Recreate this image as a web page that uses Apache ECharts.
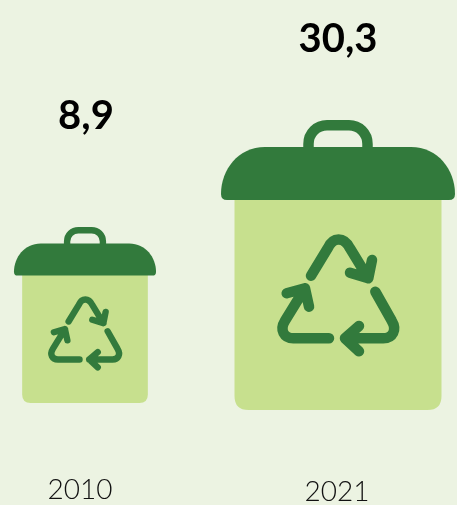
<!DOCTYPE html>
<html>
<head>
<meta charset="utf-8">
<style>
  html, body { margin: 0; padding: 0; background: #ecf3e2; }
  #myChart { width: 457px; height: 505px; }
</style>
</head>
<body>
<div id="myChart"></div>
<script src="https://cdn.jsdelivr.net/npm/echarts@6/dist/echarts.min.js"></script>
<script>
// data
const years = ["2010", "2021"];
const values = [8.9, 30.3];

// layout
const yMin = -24.16;
const yMax = 30.3;
const binStretch = 1.065;
const binHeight = 290; // icon drawn at the size of the 2021 bin
const labelLift = [111, 81];
const labelShift = [1, 0];

const lidColor = "#327a3c";
const bodyColor = "#c7e08e";

// icon outlines, origin at the top centre of the handle
const bodyPath = "M-103.5 76 H103.5 V276 Q103.5 290 89.5 290 H-89.5 Q-103.5 290 -103.5 276 Z";
const lidPath = "M-73 27 H73 C100 27 117 50 117 74 Q117 80 111 80 H-111 Q-117 80 -117 74 C-117 50 -100 27 -73 27 Z";
const handlePath = "M-29.5 30 V24 C-29.5 13 -21 5.3 -11 5.3 H11 C21 5.3 29.5 13 29.5 24 V30";
const recyclePaths = [
  "M-27 155.7 L-10.3 128.3 C-5 116.5 6 116.5 12 128.3 L30.3 158.3 M12 152.7 L30.3 158.3 L34 140",
  "M37.3 171.7 L53.7 200.7 C59.3 210 54.7 218.3 45.3 218.3 L7 218.3 M21 206 L7 218.3 L21 231.3",
  "M-9 218.3 L-44.7 218.3 C-54 218.3 -58.7 210 -53 200.7 L-33 168.3 M-51.3 173.3 L-33 168.3 L-29 186.7"
];

function renderBin(params, api) {
  const i = params.dataIndex;
  const top = api.coord([i, api.value(1)]);
  const base = api.coord([i, yMin]);
  const s = (binStretch * (base[1] - top[1])) / binHeight;
  const text = api.value(1).toFixed(1).replace(".", ",");
  const strokeStyle = {
    fill: "none",
    stroke: lidColor,
    lineWidth: 10.5,
    lineCap: "round",
    lineJoin: "round"
  };
  return {
    type: "group",
    children: [
      {
        type: "group",
        x: top[0],
        y: top[1],
        scaleX: s,
        scaleY: s,
        children: [
          { type: "path", shape: { pathData: bodyPath }, style: { fill: bodyColor } },
          { type: "path", shape: { pathData: handlePath }, style: { fill: "none", stroke: lidColor, lineWidth: 10.5 } },
          { type: "path", shape: { pathData: lidPath }, style: { fill: lidColor } }
        ].concat(recyclePaths.map(d => ({ type: "path", shape: { pathData: d }, style: strokeStyle })))
      },
      {
        type: "text",
        style: {
          text: text,
          x: top[0] + labelShift[i],
          y: top[1] - labelLift[i],
          textAlign: "center",
          textVerticalAlign: "middle",
          font: "bold 40px Lato",
          fill: "#000"
        }
      }
    ]
  };
}

let myChart = echarts.init(document.getElementById("myChart"), null, { renderer: "canvas" });
myChart.setOption({
  backgroundColor: "#ecf3e2",
  animation: false,
  grid: { left: 85, right: 119, top: 120, bottom: 112.7, outerBoundsMode: "none" },
  xAxis: {
    type: "category",
    data: years,
    boundaryGap: false,
    axisLine: { show: false },
    axisTick: { show: false },
    axisLabel: {
      margin: 84,
      interval: 0,
      formatter: (v, i) => "{y" + i + "|" + v + "}",
      rich: {
        y0: { fontFamily: "Lato", fontWeight: 300, fontSize: 28, color: "#111", padding: [0, 10, 0, 0] },
        y1: { fontFamily: "Lato", fontWeight: 300, fontSize: 28, color: "#111", padding: [2, 2, 0, 0] }
      }
    }
  },
  yAxis: { type: "value", min: yMin, max: yMax, show: false },
  series: [
    {
      type: "custom",
      renderItem: renderBin,
      clip: false,
      data: values.map((v, i) => [i, v]),
      encode: { x: 0, y: 1 }
    }
  ]
});
window.onresize = myChart.resize;
</script>
</body>
</html>
